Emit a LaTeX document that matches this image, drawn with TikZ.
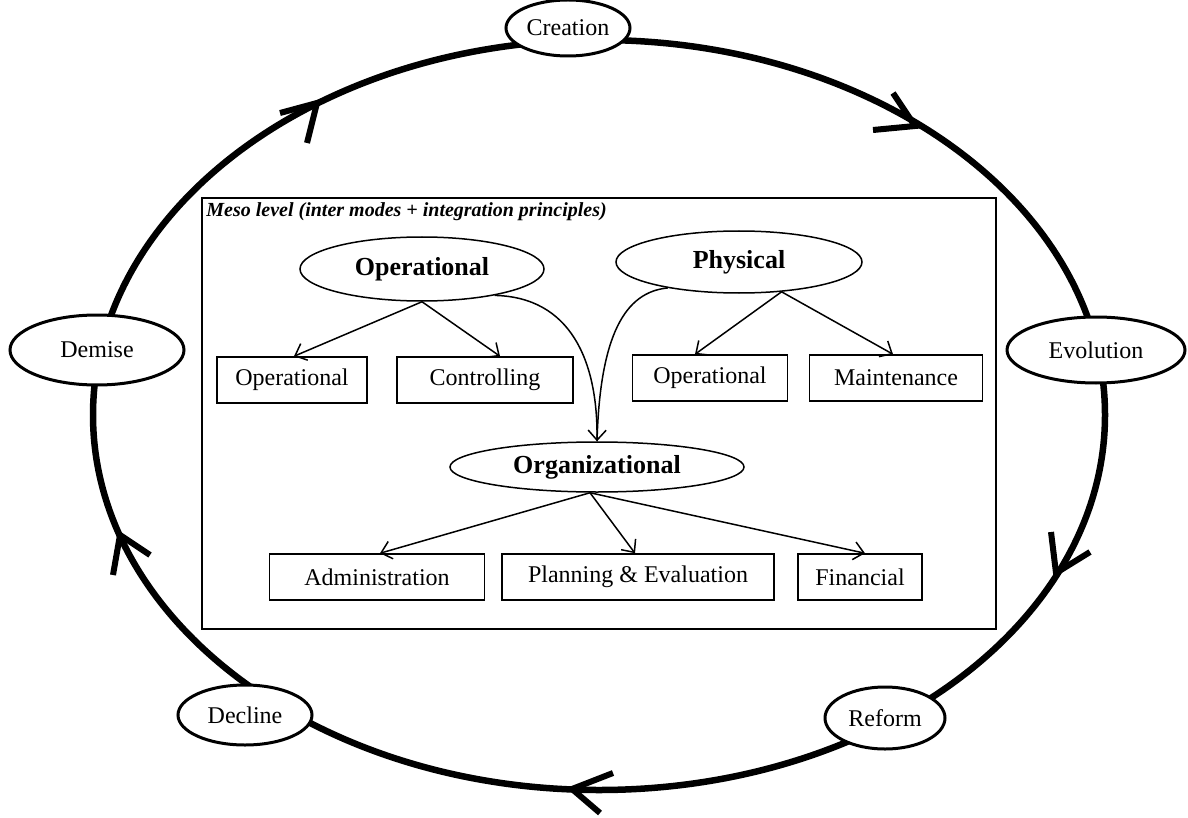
\documentclass[tikz,border=0pt]{standalone}
\usepackage{fontspec}
\setmainfont{Liberation Serif}
\usetikzlibrary{arrows.meta,shapes.geometric}
\begin{document}
\begin{tikzpicture}[x=1pt,y=-1pt,
  ring/.style={line width=6.5pt},
  vhead/.style={line width=6pt, line join=miter},
  stage/.style={ellipse, draw, line width=3pt, fill=white, inner sep=0pt,
    font=\fontsize{24}{26}\selectfont},
  mode/.style={ellipse, draw, line width=1.5pt, fill=white, inner sep=0pt,
    font=\fontsize{26}{28}\selectfont\bfseries},
  unit/.style={rectangle, draw, line width=1.5pt, inner sep=0pt,
    minimum height=46pt, font=\fontsize{24}{26}\selectfont},
  link/.style={line width=1.5pt, -{Straight Barb[length=10pt,width=18pt]}},
  plain/.style={line width=1.5pt}
]
\useasboundingbox (0,0) rectangle (1188,818);

% life-cycle ring
\draw[ring] (599,415) ellipse [x radius=506pt, y radius=375pt];

% direction marks on the ring
\draw[vhead] (307,143) -- (317,103) -- (280,113);
\draw[vhead] (893,93) -- (915,126) -- (873,130);
\draw[vhead] (1051,532) -- (1056,573) -- (1090,552);
\draw[vhead] (613,773) -- (572,789) -- (600,813);
\draw[vhead] (113,575) -- (120,535) -- (150,555);

% stages of the cycle
\node[stage, minimum width=124pt, minimum height=56pt] (creation) at (568,28) {Creation};
\node[stage, minimum width=178pt, minimum height=66pt] (evolution) at (1096,350) {Evolution};
\node[stage, minimum width=120pt, minimum height=62pt] (reform) at (885,718) {Reform};
\node[stage, minimum width=134pt, minimum height=60pt] (decline) at (245,715) {Decline};
\node[stage, minimum width=174pt, minimum height=70pt] (demise) at (97,350) {Demise};

% meso level frame
\node[draw, line width=1.5pt, inner sep=0pt, minimum width=794pt, minimum height=431pt]
  (meso) at (599,413.5) {};
\node[anchor=north west, inner sep=0pt, font=\fontsize{20}{22}\selectfont\bfseries\itshape]
  (title) at ([xshift=5pt,yshift=-5pt]meso.north west)
  {Meso level (inter modes + integration principles)};

% modes
\node[mode, minimum width=244pt, minimum height=64pt] (op) at (422,269) {Operational};
\node[mode, minimum width=246pt, minimum height=62pt] (phy) at (739,262) {Physical};
\node[mode, minimum width=294pt, minimum height=50pt] (org) at (597,467) {Organizational};

% functions
\node[unit, minimum width=150pt] (opa) at (292,380) {Operational};
\node[unit, minimum width=176pt] (ctl) at (485,380) {Controlling};
\node[unit, minimum width=155pt] (opb) at (710,378) {Operational};
\node[unit, minimum width=173pt] (mnt) at (896,378) {Maintenance};
\node[unit, minimum width=215pt] (adm) at (377,577) {Administration};
\node[unit, minimum width=272pt] (pln) at (638,577) {Planning \& Evaluation};
\node[unit, minimum width=124pt] (fin) at (860,577) {Financial};

% links
\draw[link] (op.south) -- ([xshift=2pt]opa.north);
\draw[link] (op.south) -- ([xshift=15pt]ctl.north);
\draw[link] (phy.-35) -- ([xshift=-15pt]opb.north);
\draw[link] (phy.-35) -- ([xshift=-3pt]mnt.north);
\draw[link] ([xshift=-7pt]org.south) -- ([xshift=3pt]adm.north);
\draw[link] ([xshift=-7pt]org.south) -- ([xshift=-3pt]pln.north);
\draw[link] ([xshift=-7pt]org.south) -- ([xshift=5pt]fin.north);

% integration into the organizational mode
\draw[link] (op.-20) .. controls (570,297) and (598,360) .. (org.north);
\draw[plain] (phy.-160) .. controls (625,292) and (600,335) .. (org.north);
\end{tikzpicture}
\end{document}
